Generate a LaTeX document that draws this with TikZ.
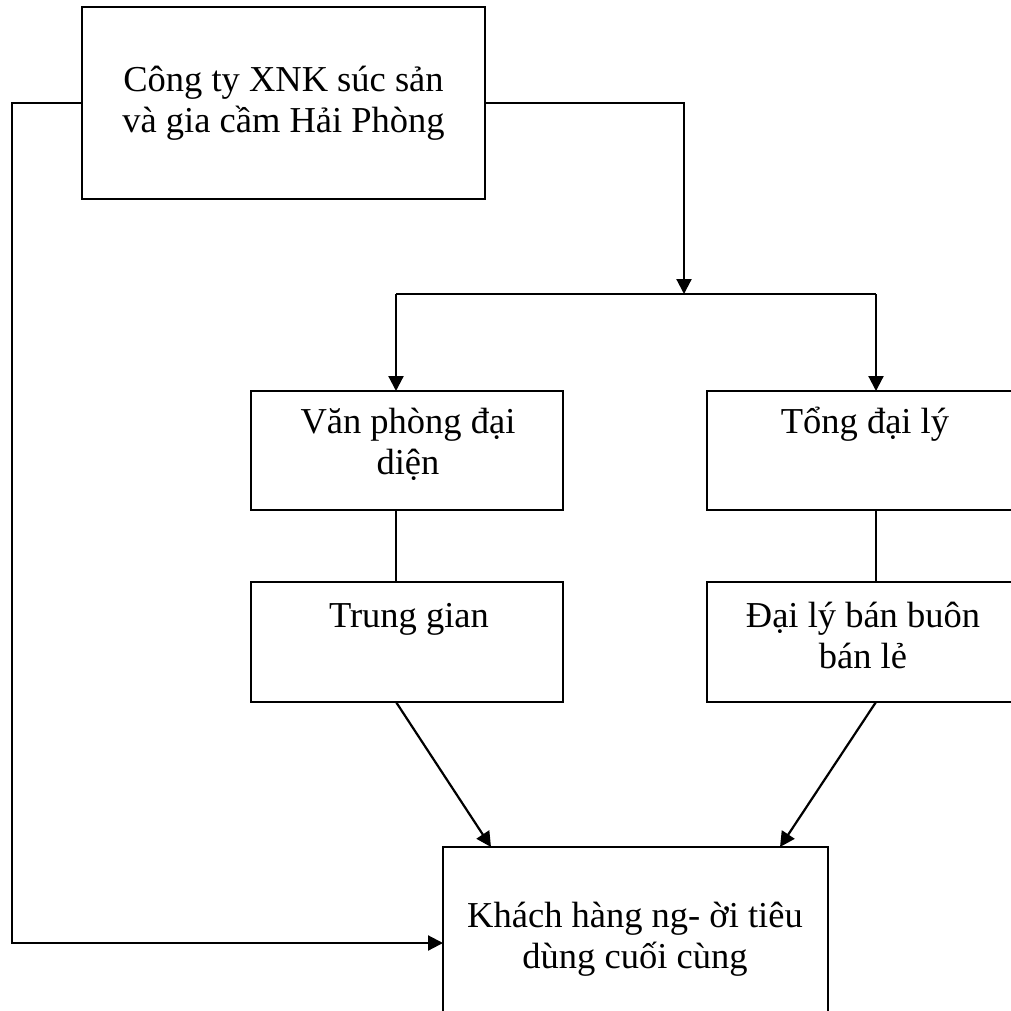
\documentclass[tikz,border=0pt]{standalone}
\usepackage{fontspec}
\setmainfont{Liberation Serif}
\usetikzlibrary{arrows.meta}
\begin{document}
\begin{tikzpicture}[x=1pt,y=-1pt,
  box/.style={draw,line width=2.2pt,rectangle,inner sep=0pt,outer sep=0pt,anchor=north west},
  lbl/.style={anchor=base,inner sep=0pt,align=flush center,text width=420pt,
    font=\fontsize{36.5}{41}\selectfont},
  conn/.style={line width=2.2pt},
  arr/.style={conn,-{Triangle[length=15pt,width=15pt]}}]
\useasboundingbox (0,0) rectangle (1011,1011);
\clip (0,0) rectangle (1011,1011);
% boxes
\node[box,minimum width=403pt,minimum height=192pt] (top) at (82,7) {};
\node[box,minimum width=312pt,minimum height=119pt] (vp) at (251,391) {};
\node[box,minimum width=312pt,minimum height=120pt] (tg) at (251,582) {};
\node[box,minimum width=314pt,minimum height=119pt] (td) at (707,391) {};
\node[box,minimum width=314pt,minimum height=120pt] (db) at (707,582) {};
\node[box,minimum width=385pt,minimum height=192pt] (cust) at (443,847) {};
% labels
\node[lbl] (topt) at (283.5,92) {Công ty XNK súc sản\\và gia cầm Hải Phòng};
\node[lbl] (vpt) at (408,433) {Văn phòng đại\\diện};
\node[lbl] (tgt) at (409,627) {Trung gian};
\node[lbl] (tdt) at (865,433) {Tổng đại lý};
\node[lbl] (dbt) at (863,627) {Đại lý bán buôn\\bán lẻ};
\node[lbl] (custt) at (635,927) {Khách hàng ng- ời tiêu\\dùng cuối cùng};
% junction coordinates
\coordinate (lc) at (12,103);
\coordinate (sp) at (684,294);
\coordinate (lj) at (396,294);
\coordinate (rj) at (876,294);
\coordinate (la) at (491,847);
\coordinate (ra) at (780,847);
% connectors
\draw[arr] (top.west) -- (lc) |- (cust.west);
\draw[arr] (top.east) -| (sp);
\draw[conn] (lj) -- (rj);
\draw[arr] (lj) -- (lj |- vp.north);
\draw[arr] (rj) -- (rj |- td.north);
\draw[conn] (lj |- vp.south) -- (lj |- tg.north);
\draw[conn] (rj |- td.south) -- (rj |- db.north);
\draw[arr] (lj |- tg.south) -- (la);
\draw[arr] (rj |- db.south) -- (ra);
\end{tikzpicture}
\end{document}
